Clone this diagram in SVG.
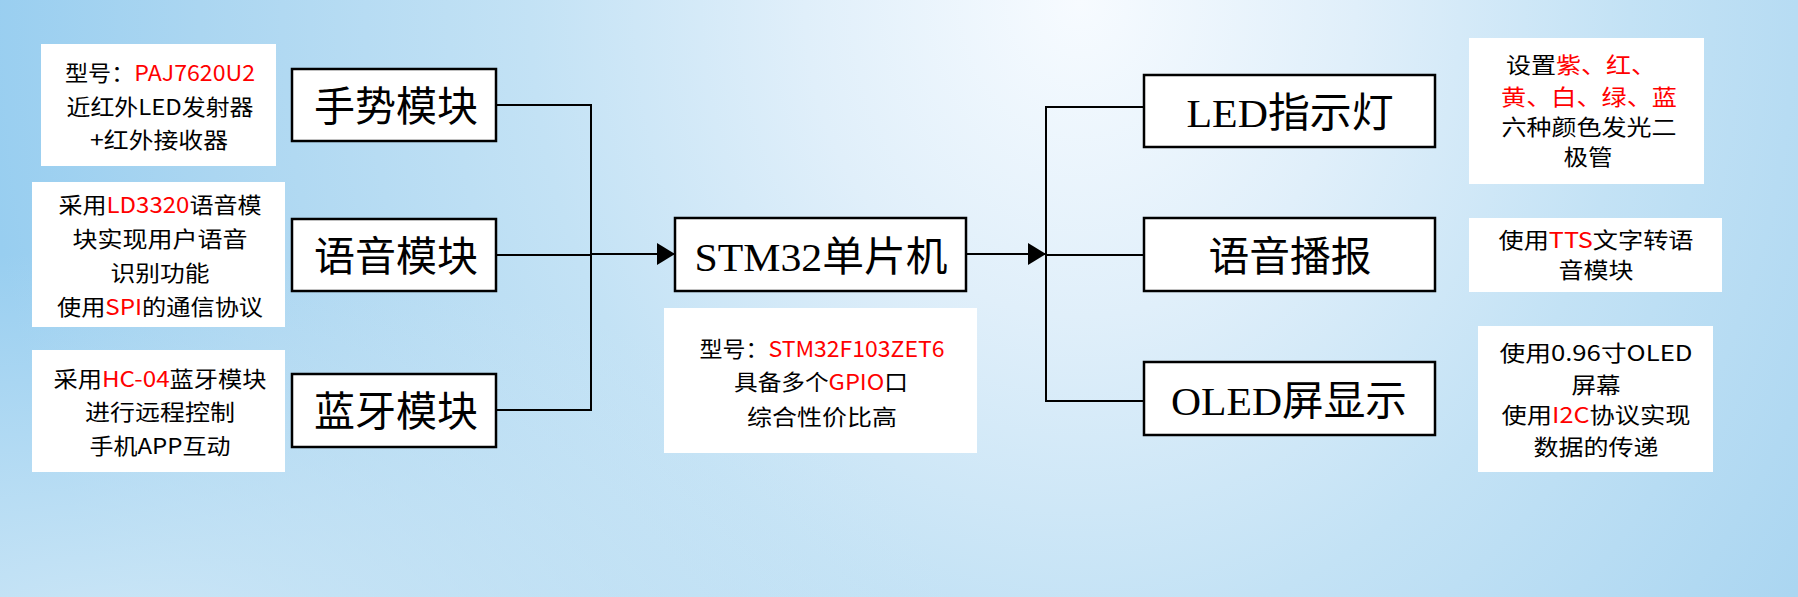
<svg xmlns="http://www.w3.org/2000/svg" width="1798" height="597" viewBox="0 0 1798 597">
<defs>
<radialGradient id="bg" cx="1080" cy="0" r="1100" gradientUnits="userSpaceOnUse" gradientTransform="translate(1080 0) scale(1 1.15) translate(-1080 0)">
<stop offset="0" stop-color="#f7fbff"/>
<stop offset="0.25" stop-color="#e0effa"/>
<stop offset="0.5" stop-color="#c3e2f5"/>
<stop offset="0.8" stop-color="#abd6f1"/>
<stop offset="1" stop-color="#98cef0"/>
</radialGradient>
<radialGradient id="bl" cx="120" cy="640" r="650" gradientUnits="userSpaceOnUse" gradientTransform="translate(120 640) scale(1.3 0.6) translate(-120 -640)">
<stop offset="0" stop-color="#d2e9f7" stop-opacity="0.9"/>
<stop offset="1" stop-color="#d2e9f7" stop-opacity="0"/>
</radialGradient>
<marker id="arr" markerWidth="20" markerHeight="22" refX="18" refY="11" orient="auto" markerUnits="userSpaceOnUse">
<path d="M0,0 L18,11 L0,22 Z" fill="#000"/>
</marker>
<style>
.box{fill:#fff;stroke:#000;stroke-width:2.5}
.note{fill:#fff}
.big{font-family:"Liberation Serif","Noto Sans CJK SC",serif;font-size:41px;fill:#000;text-anchor:middle}
.nt{font-family:"Noto Sans CJK SC",sans-serif;font-size:22px;fill:#000;text-anchor:middle}
.r{fill:#ff0000}
.ln{fill:none;stroke:#000;stroke-width:2}
</style>
</defs>
<rect width="1798" height="597" fill="url(#bg)"/>
<rect width="1798" height="597" fill="url(#bl)"/>
<g id="connectors">
<polyline class="ln" points="496,105 591,105 591,410 496,410"/>
<line class="ln" x1="496" y1="255" x2="591" y2="255"/>
<line class="ln" x1="591" y1="254" x2="675" y2="254" marker-end="url(#arr)"/>
<line class="ln" x1="966" y1="254" x2="1046" y2="254" marker-end="url(#arr)"/>
<polyline class="ln" points="1144,107 1046,107 1046,401 1144,401"/>
<line class="ln" x1="1046" y1="255" x2="1144" y2="255"/>
</g>
<g id="note-gesture">
<rect class="note" x="41" y="44" width="235" height="122"/>
<text class="nt" x="160" y="81" textLength="190" lengthAdjust="spacingAndGlyphs">型号：<tspan class="r">PAJ7620U2</tspan></text>
<text class="nt" x="160" y="115" textLength="187" lengthAdjust="spacingAndGlyphs">近红外LED发射器</text>
<text class="nt" x="159" y="148" textLength="138" lengthAdjust="spacingAndGlyphs">+红外接收器</text>
</g>
<g id="note-voice">
<rect class="note" x="32" y="182" width="253" height="145"/>
<text class="nt" x="160" y="213" textLength="203" lengthAdjust="spacingAndGlyphs">采用<tspan class="r">LD3320</tspan>语音模</text>
<text class="nt" x="160" y="247" textLength="175" lengthAdjust="spacingAndGlyphs">块实现用户语音</text>
<text class="nt" x="160" y="281" textLength="99" lengthAdjust="spacingAndGlyphs">识别功能</text>
<text class="nt" x="160" y="315" textLength="206" lengthAdjust="spacingAndGlyphs">使用<tspan class="r">SPI</tspan>的通信协议</text>
</g>
<g id="note-bt">
<rect class="note" x="32" y="350" width="253" height="122"/>
<text class="nt" x="160" y="387" textLength="213" lengthAdjust="spacingAndGlyphs">采用<tspan class="r">HC-04</tspan>蓝牙模块</text>
<text class="nt" x="160" y="420" textLength="150" lengthAdjust="spacingAndGlyphs">进行远程控制</text>
<text class="nt" x="160" y="454" textLength="141" lengthAdjust="spacingAndGlyphs">手机APP互动</text>
</g>
<g id="node-gesture">
<rect class="box" x="292" y="69" width="204" height="72"/>
<text class="big" x="396" y="121" textLength="164" lengthAdjust="spacingAndGlyphs">手势模块</text>
</g>
<g id="node-voice">
<rect class="box" x="292" y="219" width="204" height="72"/>
<text class="big" x="396" y="271" textLength="164" lengthAdjust="spacingAndGlyphs">语音模块</text>
</g>
<g id="node-bt">
<rect class="box" x="292" y="374" width="204" height="73"/>
<text class="big" x="396" y="426" textLength="164" lengthAdjust="spacingAndGlyphs">蓝牙模块</text>
</g>
<g id="node-stm32">
<rect class="box" x="675" y="218" width="291" height="73"/>
<text class="big" x="821" y="271" textLength="253" lengthAdjust="spacingAndGlyphs">STM32单片机</text>
</g>
<g id="note-stm32">
<rect class="note" x="664" y="308" width="313" height="145"/>
<text class="nt" x="822" y="357" textLength="245" lengthAdjust="spacingAndGlyphs">型号：<tspan class="r">STM32F103ZET6</tspan></text>
<text class="nt" x="821" y="390" textLength="174" lengthAdjust="spacingAndGlyphs">具备多个<tspan class="r">GPIO</tspan>口</text>
<text class="nt" x="822" y="425" textLength="150" lengthAdjust="spacingAndGlyphs">综合性价比高</text>
</g>
<g id="node-led">
<rect class="box" x="1144" y="75" width="291" height="72"/>
<text class="big" x="1290" y="127" textLength="207" lengthAdjust="spacingAndGlyphs">LED指示灯</text>
</g>
<g id="node-tts">
<rect class="box" x="1144" y="218" width="291" height="73"/>
<text class="big" x="1290" y="271" textLength="163" lengthAdjust="spacingAndGlyphs">语音播报</text>
</g>
<g id="node-oled">
<rect class="box" x="1144" y="362" width="291" height="73"/>
<text class="big" x="1289" y="415" textLength="236" lengthAdjust="spacingAndGlyphs">OLED屏显示</text>
</g>
<g id="note-led">
<rect class="note" x="1469" y="38" width="235" height="146"/>
<text class="nt" x="1581" y="73" textLength="150" lengthAdjust="spacingAndGlyphs">设置<tspan class="r">紫、红、</tspan></text>
<text class="nt r" x="1589" y="105" textLength="176" lengthAdjust="spacingAndGlyphs">黄、白、绿、蓝</text>
<text class="nt" x="1589" y="135" textLength="175" lengthAdjust="spacingAndGlyphs">六种颜色发光二</text>
<text class="nt" x="1588" y="165" textLength="49" lengthAdjust="spacingAndGlyphs">极管</text>
</g>
<g id="note-tts">
<rect class="note" x="1469" y="218" width="253" height="74"/>
<text class="nt" x="1596" y="248" textLength="195" lengthAdjust="spacingAndGlyphs">使用<tspan class="r">TTS</tspan>文字转语</text>
<text class="nt" x="1596" y="278" textLength="75" lengthAdjust="spacingAndGlyphs">音模块</text>
</g>
<g id="note-oled">
<rect class="note" x="1478" y="326" width="235" height="146"/>
<text class="nt" x="1596" y="361" textLength="193" lengthAdjust="spacingAndGlyphs">使用0.96寸OLED</text>
<text class="nt" x="1596" y="393" textLength="49" lengthAdjust="spacingAndGlyphs">屏幕</text>
<text class="nt" x="1596" y="423" textLength="189" lengthAdjust="spacingAndGlyphs">使用<tspan class="r">I2C</tspan>协议实现</text>
<text class="nt" x="1596" y="455" textLength="125" lengthAdjust="spacingAndGlyphs">数据的传递</text>
</g>
</svg>
